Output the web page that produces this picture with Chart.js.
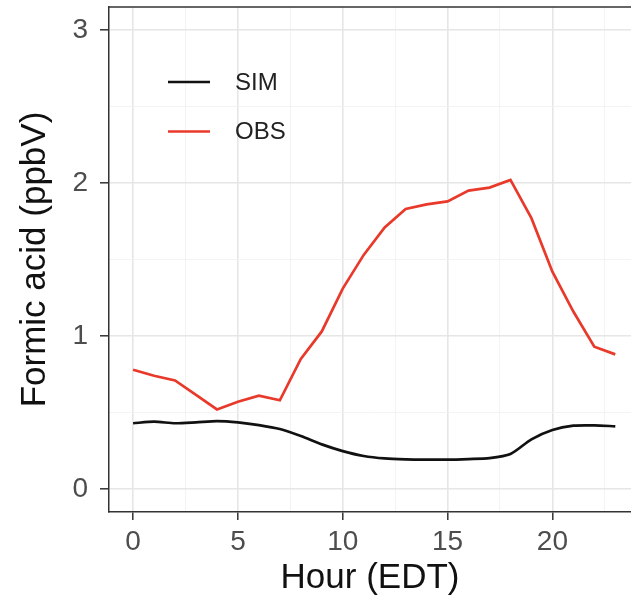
<!DOCTYPE html>
<html lang="en">
<head>
  <meta charset="UTF-8" />
  <title>Formic acid diurnal cycle</title>
  <style>
    body {
      margin: 0;
      background: #ffffff;
    }

    canvas {
      display: block;
    }
  </style>
</head>
<body>
  <canvas id="formicChart" width="631" height="604"></canvas>

  <script src="https://cdn.jsdelivr.net/npm/chart.js"></script>
  <script>
    // Hourly means
    const hours = [0, 1, 2, 3, 4, 5, 6, 7, 8, 9, 10, 11, 12, 13, 14, 15, 16, 17, 18, 19, 20, 21, 22, 23];
    const simValues = [0.43, 0.44, 0.43, 0.436, 0.444, 0.436, 0.418, 0.392, 0.346, 0.292, 0.248, 0.216,
                       0.20, 0.194, 0.192, 0.192, 0.196, 0.202, 0.229, 0.325, 0.386, 0.414, 0.416, 0.41];
    const obsValues = [0.78, 0.74, 0.71, 0.615, 0.52, 0.57, 0.61, 0.58, 0.85, 1.03, 1.31, 1.53,
                       1.71, 1.83, 1.86, 1.88, 1.95, 1.97, 2.02, 1.77, 1.42, 1.16, 0.93, 0.88];

    // grid positions (major ones get labels)
    const xGrid = [0, 2.5, 5, 7.5, 10, 12.5, 15, 17.5, 20, 22.5];
    const xLabels = [0, 5, 10, 15, 20];
    const yGrid = [0, 0.5, 1, 1.5, 2, 2.5, 3];
    const yLabels = [0, 1, 2, 3];

    const FONT = "'Liberation Sans', Arial, sans-serif";

    const isMajorX = v => xLabels.includes(v);
    const isMajorY = v => yLabels.includes(v);

    // no extra room for half-labels at the axis ends
    const noEndPadding = scale => {
      scale.paddingTop = 0;
      scale.paddingBottom = 0;
      scale.paddingLeft = 0;
      scale.paddingRight = 0;
    };

    // ggplot-like legend sitting inside the panel, plus the top panel edge
    const panelExtras = {
      id: 'panelExtras',
      afterDatasetsDraw(chart) {
        const { ctx, chartArea } = chart;
        ctx.save();
        ctx.strokeStyle = '#333333';
        ctx.lineWidth = 1.5;
        ctx.beginPath();
        ctx.moveTo(chartArea.left, chartArea.top);
        ctx.lineTo(chartArea.right, chartArea.top);
        ctx.stroke();

        chart.data.datasets.forEach((ds, i) => {
          const y = 82 + i * 49.5;
          ctx.strokeStyle = ds.borderColor;
          ctx.lineWidth = 2.6;
          ctx.beginPath();
          ctx.moveTo(168, y);
          ctx.lineTo(210, y);
          ctx.stroke();
          ctx.fillStyle = '#222222';
          ctx.font = '24px ' + FONT;
          ctx.textBaseline = 'middle';
          ctx.textAlign = 'left';
          ctx.fillText(ds.label, 235, y + 1);
        });
        ctx.restore();
      }
    };

    const ctx = document.getElementById('formicChart').getContext('2d');
    new Chart(ctx, {
      type: 'line',
      data: {
        labels: hours,
        datasets: [
          {
            label: 'SIM',
            data: hours.map((h, i) => ({ x: h, y: simValues[i] })),
            borderColor: '#111111',
            borderWidth: 2.7,
            pointRadius: 0,
            tension: 0.25,
            fill: false
          },
          {
            label: 'OBS',
            data: hours.map((h, i) => ({ x: h, y: obsValues[i] })),
            borderColor: '#e8392a',
            borderWidth: 2.7,
            pointRadius: 0,
            tension: 0,
            fill: false
          }
        ]
      },
      options: {
        responsive: false,
        animation: false,
        layout: { padding: { top: 7, right: 0, left: 0, bottom: 0 } },
        plugins: {
          legend: { display: false },
          tooltip: { enabled: false }
        },
        scales: {
          x: {
            type: 'linear',
            min: -1.15,
            max: 23.75,
            afterBuildTicks: scale => { scale.ticks = xGrid.map(v => ({ value: v })); },
            afterFit: scale => { scale.height = 92; noEndPadding(scale); },
            border: { color: '#333333', width: 1.5 },
            grid: {
              color: c => isMajorX(c.tick.value) ? '#e6e6e6' : '#f2f2f2',
              lineWidth: c => isMajorX(c.tick.value) ? 1.6 : 0.9,
              tickColor: c => isMajorX(c.tick.value) ? '#333333' : 'rgba(0,0,0,0)',
              tickLength: 8,
              tickWidth: 1.5
            },
            ticks: {
              autoSkip: false,
              maxRotation: 0,
              padding: 5,
              color: '#4d4d4d',
              font: { family: FONT, size: 28 },
              callback: v => isMajorX(v) ? String(v) : ''
            },
            title: {
              display: true,
              text: 'Hour (EDT)',
              color: '#111111',
              font: { family: FONT, size: 35 },
              padding: { top: 0, bottom: 5 }
            }
          },
          y: {
            type: 'linear',
            min: -0.15,
            max: 3.15,
            afterBuildTicks: scale => { scale.ticks = yGrid.map(v => ({ value: v })); },
            afterFit: scale => { scale.width = 109; noEndPadding(scale); },
            border: { color: '#333333', width: 1.5 },
            grid: {
              color: c => isMajorY(c.tick.value) ? '#e6e6e6' : '#f2f2f2',
              lineWidth: c => isMajorY(c.tick.value) ? 1.6 : 0.9,
              tickColor: c => isMajorY(c.tick.value) ? '#333333' : 'rgba(0,0,0,0)',
              tickLength: 9,
              tickWidth: 1.5
            },
            ticks: {
              autoSkip: false,
              padding: 12,
              color: '#4d4d4d',
              font: { family: FONT, size: 28 },
              callback: v => isMajorY(v) ? String(v) : ''
            },
            title: {
              display: true,
              text: 'Formic acid (ppbV)',
              color: '#111111',
              font: { family: FONT, size: 35 },
              padding: { top: 14, bottom: 0 }
            }
          }
        }
      },
      plugins: [panelExtras]
    });
  </script>
</body>
</html>
